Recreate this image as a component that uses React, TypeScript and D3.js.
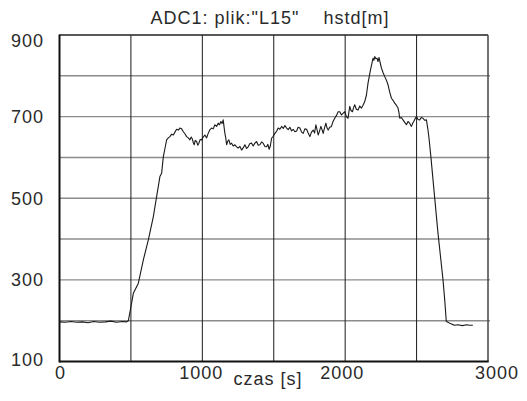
import React from 'react';
import * as d3 from 'd3';

// czas [s] i hstd[m]
const czas = [
  0, 40, 80, 120, 160, 200, 240, 280, 320, 360, 400, 440, 470, 482, 495,
  517, 552, 587, 622, 657, 680, 703, 715, 727, 740, 750, 762, 773, 785, 797,
  808, 820, 832, 843, 855, 867, 878, 890, 902, 913, 922, 930, 937, 943, 950,
  960, 968, 976, 985, 995, 1006, 1018, 1030, 1041, 1053, 1065, 1076, 1088,
  1100, 1111, 1120, 1130, 1138, 1146, 1152, 1158, 1164, 1170, 1178, 1186, 1195,
  1205, 1216, 1228, 1240, 1251, 1263, 1275, 1287, 1298, 1310, 1321, 1333, 1345,
  1356, 1368, 1380, 1391, 1403, 1415, 1426, 1438, 1450, 1459, 1468, 1476, 1485,
  1496, 1508, 1520, 1531, 1543, 1555, 1567, 1578, 1590, 1601, 1613, 1625, 1636,
  1648, 1660, 1671, 1683, 1695, 1706, 1718, 1730, 1741, 1753, 1764, 1776, 1786,
  1795, 1803, 1811, 1820, 1830, 1838, 1846, 1855, 1865, 1873, 1881, 1892, 1904,
  1915, 1927, 1939, 1951, 1962, 1974, 1985, 1997, 2009, 2020, 2032, 2041, 2051,
  2059, 2067, 2078, 2090, 2102, 2114, 2125, 2137, 2149, 2160, 2177, 2195, 2201,
  2207, 2215, 2223, 2230, 2237, 2245, 2254, 2265, 2277, 2288, 2300, 2312, 2324,
  2335, 2347, 2358, 2370, 2376, 2382, 2393, 2405, 2417, 2429, 2440, 2452, 2458,
  2464, 2472, 2480, 2490, 2499, 2510, 2522, 2533, 2545, 2557, 2569, 2580, 2587,
  2600, 2626, 2650, 2685, 2697, 2708, 2720, 2731, 2750, 2766, 2790, 2820, 2850,
  2870, 2894,
];
const hstd = [
  197, 196, 198, 196, 197, 195, 198, 196, 197, 199, 196, 198, 197, 200, 224,
  267, 292, 349, 398, 455, 504, 553, 561, 602, 625, 643, 648, 651, 657, 655,
  662, 669, 667, 672, 670, 663, 658, 651, 648, 643, 650, 645, 636, 631, 642,
  639, 630, 635, 644, 643, 650, 655, 648, 659, 668, 672, 670, 680, 676,
  684, 680, 688, 683, 692, 675, 659, 648, 631, 640, 643, 632, 635, 628, 631,
  626, 623, 627, 618, 624, 631, 622, 626, 634, 635, 628, 635, 639, 630, 631,
  638, 635, 627, 626, 632, 620, 628, 647, 652, 659, 664, 672, 669, 676, 671,
  678, 672, 668, 674, 665, 669, 663, 665, 674, 672, 662, 659, 670, 669, 660,
  651, 662, 667, 660, 680, 668, 655, 664, 676, 668, 659, 672, 684, 672, 667,
  674, 676, 688, 696, 703, 712, 712, 704, 708, 712, 700, 696, 725, 715, 712,
  722, 729, 718, 716, 726, 721, 728, 737, 753, 782, 814, 843, 838, 847,
  842, 843, 835, 845, 832, 819, 808, 798, 790, 778, 760, 745, 740, 733,
  728, 721, 711, 696, 698, 692, 686, 680, 688, 684, 679, 676, 683, 688, 695,
  700, 693, 692, 698, 696, 691, 692, 667, 647, 602, 504, 414, 300,
  251, 198, 196, 194, 191, 189, 190, 188, 190, 189, 189,
];

const xTicks = [0, 500, 1000, 1500, 2000, 2500, 3000];
const xLabels = [0, 1000, 2000, 3000];
const yTicks = [100, 200, 300, 400, 500, 600, 700, 800, 900];
const yLabels = [100, 300, 500, 700, 900];

const tytul = 'ADC1: plik:"L15"    hstd[m]';
const osX = 'czas [s]';

export default function App() {
  const W = 527;
  const H = 401;
  const m = { left: 59.5, right: 39, top: 35, bottom: 39.5 };

  const x = d3.scaleLinear().domain([0, 3000]).range([m.left, W - m.right]);
  const y = d3.scaleLinear().domain([100, 900]).range([H - m.bottom, m.top]);

  const pts: [number, number][] = czas.map((t, i) => [t, hstd[i]]);
  const line = d3
    .line<[number, number]>()
    .x((d) => x(d[0]))
    .y((d) => y(d[1]));

  const font = '"Liberation Sans", Arial, sans-serif';
  const ink = '#2a2a2a';
  // przesuniecia etykiet jak w oryginale
  const xLabelDx: Record<number, number> = { 0: 1, 1000: -1, 2000: -3, 3000: 9 };
  const yLabelDy: Record<number, number> = { 900: 6, 100: -1.5 };

  return (
    <svg
      width={W}
      height={H}
      style={{ position: 'absolute', left: 0, top: 0, background: '#fff' }}
      fontFamily={font}
    >
      <text
        x={270}
        y={24}
        textAnchor="middle"
        fontSize={18}
        letterSpacing={1}
        fill={ink}
        style={{ whiteSpace: 'pre' }}
      >
        {tytul}
      </text>

      {yTicks.slice(1, -1).map((v) => (
        <line
          key={'h' + v}
          x1={x(0)}
          x2={x(3000) + 2}
          y1={y(v)}
          y2={y(v)}
          stroke="#8c8c8c"
          strokeWidth={1.4}
        />
      ))}
      {xTicks.slice(1, -1).map((t) => (
        <line
          key={'v' + t}
          x1={x(t)}
          x2={x(t)}
          y1={y(900)}
          y2={y(100)}
          stroke="#1a1a1a"
          strokeWidth={1}
        />
      ))}

      <path d={line(pts) || ''} fill="none" stroke="#1a1a1a" strokeWidth={1.1} strokeLinejoin="round" />

      {/* ramka */}
      <line x1={x(0)} x2={x(3000)} y1={y(900)} y2={y(900)} stroke="#222" strokeWidth={1.3} />
      <line x1={x(3000)} x2={x(3000)} y1={y(900)} y2={y(100)} stroke="#444" strokeWidth={1.5} />
      <line x1={x(0)} x2={x(0)} y1={y(900) - 0.6} y2={y(100) + 1} stroke="#111" strokeWidth={2} />
      <line x1={x(0)} x2={x(3000) + 0.7} y1={y(100)} y2={y(100)} stroke="#111" strokeWidth={2} />

      {yLabels.map((v) => (
        <text
          key={'yl' + v}
          x={44}
          y={y(v) + (yLabelDy[v] || 0)}
          dy="0.35em"
          textAnchor="end"
          fontSize={18}
          letterSpacing={1}
          fill={ink}
        >
          {v}
        </text>
      ))}
      {xLabels.map((t) => (
        <text
          key={'xl' + t}
          x={x(t) + (xLabelDx[t] || 0)}
          y={379}
          textAnchor="middle"
          fontSize={18}
          letterSpacing={1}
          fill={ink}
        >
          {t}
        </text>
      ))}
      <text x={268} y={385} textAnchor="middle" fontSize={18} letterSpacing={1} fill={ink}>
        {osX}
      </text>
    </svg>
  );
}
